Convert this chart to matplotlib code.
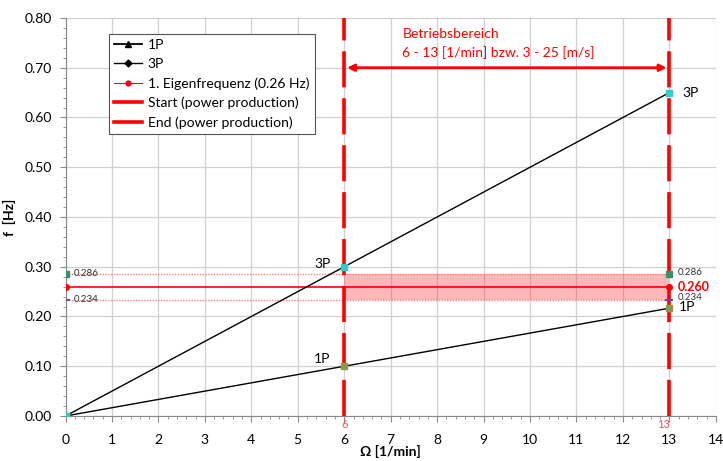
import matplotlib.pyplot as plt
from matplotlib.lines import Line2D
from matplotlib.ticker import MultipleLocator

plt.rcParams['font.family'] = ['Lato', 'DejaVu Sans']

# data
omega = [0, 6, 13]
f_1p = [0, 0.1, 0.2167]
f_3p = [0, 0.3, 0.65]
f_eigen = 0.26
f_upper = 0.286
f_lower = 0.234
start_rpm = 6
end_rpm = 13

fig = plt.figure(figsize=(7.23, 4.61), dpi=100)
ax = fig.add_axes([0.0906, 0.0976, 0.8995, 0.8634])

ax.set_xlim(0, 14)
ax.set_ylim(0, 0.8)
ax.xaxis.set_major_locator(MultipleLocator(1))
ax.xaxis.set_minor_locator(MultipleLocator(0.2))
ax.yaxis.set_major_locator(MultipleLocator(0.1))
ax.yaxis.set_minor_locator(MultipleLocator(0.02))
ax.yaxis.set_major_formatter(plt.FormatStrFormatter('%.2f'))
ax.grid(True, which='major', color='#d0d0d0', lw=0.9)
ax.set_axisbelow(True)
for s in ['top', 'right']:
    ax.spines[s].set_visible(False)
for s in ['left', 'bottom']:
    ax.spines[s].set_color('#888888')
ax.tick_params(which='both', color='#888888', labelsize=10)
ax.tick_params(which='major', length=4)
ax.tick_params(which='minor', length=2)
ax.tick_params(axis='x', which='major', pad=9)
ax.tick_params(axis='y', which='major', pad=6)
ax.set_xlabel('Ω [1/min]', fontsize=10, fontweight='bold')
ax.xaxis.set_label_coords(0.5, -0.072)
ax.set_ylabel('f  [Hz]', fontsize=10, fontweight='bold', labelpad=6)

# band around eigenfrequency inside operating range
ax.fill_between([start_rpm, end_rpm], f_lower, f_upper, color='#ff3333', alpha=0.35, lw=0, zorder=1)
ax.plot([0, end_rpm], [f_upper, f_upper], ls=(0, (1, 1)), color='#ff8080', lw=1, zorder=2)
ax.plot([0, end_rpm], [f_lower, f_lower], ls=(0, (1, 1)), color='#ff8080', lw=1, zorder=2)
ax.plot([0, end_rpm], [f_eigen, f_eigen], color='red', lw=1.2, zorder=3)
ax.plot([0, end_rpm], [f_eigen, f_eigen], 'o', color='red', ms=4, zorder=6)
ax.plot([0, end_rpm], [f_upper, f_upper], 's', color='#3a8f6a', ms=4, zorder=6)
ax.plot([0, end_rpm], [f_lower, f_lower], '_', color='#6a4a9a', ms=6, mew=1.5, zorder=6)

# 1P / 3P lines
ax.plot(omega, f_1p, color='black', lw=1, zorder=4)
ax.plot(omega, f_3p, color='black', lw=1, zorder=4)
ax.plot(omega, f_1p, 's', color='#8a9a4a', ms=4, zorder=6)
ax.plot(omega, f_3p, 's', color='#33cccc', ms=4, zorder=6)

# operating range limits
ax.axvline(start_rpm, color='red', lw=2.6, dashes=(10, 3), zorder=5)
ax.axvline(end_rpm, color='red', lw=2.6, dashes=(10, 3), zorder=5)
ax.annotate('', xy=(start_rpm, 0.70), xytext=(end_rpm, 0.70),
            arrowprops=dict(arrowstyle='<|-|>', color='red', lw=2, mutation_scale=10), zorder=6)
ax.text(7.25, 0.768, 'Betriebsbereich', color='red', fontsize=10, va='center')
ax.text(7.25, 0.731, '6 - 13 [1/min] bzw. 3 - 25 [m/s]', color='red', fontsize=10, va='center')
ax.text(start_rpm, -0.006, '6', color='#ff5050', fontsize=8, ha='center', va='top')
ax.text(end_rpm - 0.12, -0.006, '13', color='#ff5050', fontsize=8, ha='center', va='top')

# point labels
ax.text(5.7, f_3p[1] + 0.005, '3P', fontsize=10, ha='right', va='center')
ax.text(5.7, f_1p[1] + 0.014, '1P', fontsize=10, ha='right', va='center')
ax.text(13.27, f_3p[2], '3P', fontsize=10, ha='left', va='center')
ax.text(13.2, f_1p[2] + 0.003, '1P', fontsize=10, ha='left', va='center')
ax.text(0.17, f_upper, '0.286', fontsize=7, va='center', color='#333333')
ax.text(0.17, f_lower, '0.234', fontsize=7, va='center', color='#333333')
ax.text(13.17, f_upper + 0.003, '0.286', fontsize=7, va='center', color='#333333')
ax.text(13.17, f_lower + 0.004, '0.234', fontsize=7, va='center', color='#333333')
ax.text(13.17, f_eigen, '0.260', fontsize=9, va='center', color='red', fontweight='bold')

handles = [
    Line2D([], [], color='black', lw=1.3, marker='^', ms=5),
    Line2D([], [], color='black', lw=1, marker='D', ms=3.5),
    Line2D([], [], color='red', lw=0.8, marker='o', ms=3.5),
    Line2D([], [], color='red', lw=2.6),
    Line2D([], [], color='red', lw=2.6),
]
labels = ['1P', '3P', '1. Eigenfrequenz (0.26 Hz)', 'Start (power production)', 'End (power production)']
leg = ax.legend(handles, labels, loc='upper left', bbox_to_anchor=(0.056, 0.978), fontsize=10,
                fancybox=False, framealpha=1, edgecolor='#555555', handlelength=2.0,
                borderpad=0.4, labelspacing=0.5, handletextpad=0.4)
leg.get_frame().set_linewidth(0.8)

fig.savefig('out.png', dpi=100)
